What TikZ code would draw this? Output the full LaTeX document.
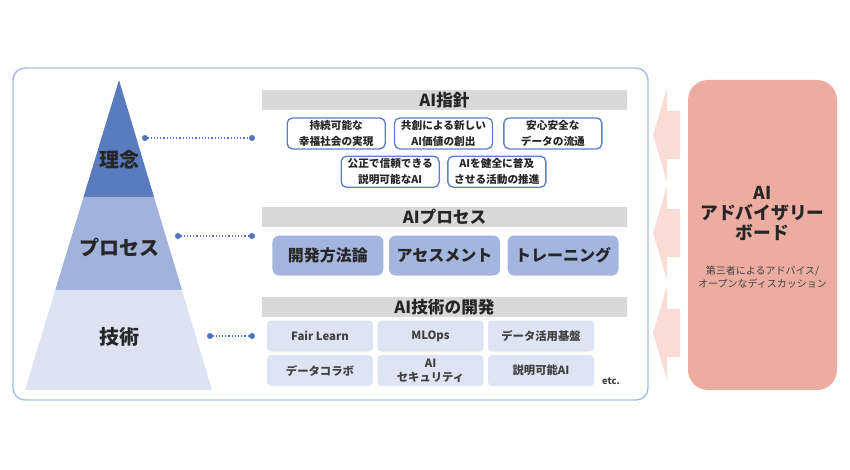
\documentclass[tikz,border=0pt]{standalone}
\usepackage{fontspec}
\setmainfont{Noto Sans CJK JP}
\usepackage{tikz}
\usetikzlibrary{positioning,arrows.meta,calc}
\definecolor{pyA}{RGB}{90,123,189}
\definecolor{pyB}{RGB}{161,179,219}
\definecolor{pyC}{RGB}{221,227,242}
\definecolor{frmblue}{RGB}{168,188,228}
\definecolor{dotblue}{RGB}{84,118,190}
\definecolor{hdgray}{RGB}{217,217,217}
\definecolor{gdblue}{RGB}{92,128,200}
\definecolor{prblue}{RGB}{164,182,222}
\definecolor{tclight}{RGB}{223,228,244}
\definecolor{advpink}{RGB}{236,173,160}
\definecolor{arwpink}{RGB}{250,220,214}
\definecolor{txtdark}{RGB}{38,38,38}
\definecolor{txtgray}{RGB}{64,64,64}
\tikzset{
  hd/.style={fill=hdgray,minimum width=273.75pt,minimum height=15pt,inner sep=0pt,
    font=\fontsize{12.5}{14}\selectfont\bfseries,text=txtdark},
  gd/.style={draw=gdblue,line width=1pt,rounded corners=4pt,fill=white,align=center,
    font=\fontsize{8}{12}\selectfont\bfseries,text=txtdark,minimum width=73.5pt,minimum height=23.25pt,inner sep=0pt},
  pr/.style={fill=prblue,rounded corners=5pt,minimum width=83.25pt,minimum height=30pt,inner sep=0pt,
    font=\fontsize{12}{14}\selectfont\bfseries,text=txtdark},
  tc/.style={fill=tclight,rounded corners=3pt,align=center,minimum width=79.5pt,minimum height=23.25pt,inner sep=0pt,
    font=\fontsize{8.5}{10.5}\selectfont\bfseries,text=txtgray},
  lv/.style={font=\fontsize{15}{18}\selectfont\bfseries,text=txtdark},
  lk/.style={{Circle[length=4.5pt]}-{Circle[length=4.5pt]},dash pattern=on 1pt off 1.4pt,line width=1pt,dotblue},
  frm/.style={draw=frmblue,line width=1.1pt,rounded corners=9pt},
  brd/.style={fill=advpink,rounded corners=15pt,minimum width=111.75pt,minimum height=232.5pt,inner sep=0pt},
  arw/.style={fill=arwpink},
}
\begin{document}
\begin{tikzpicture}[x=0.75pt,y=-0.75pt]
\useasboundingbox (0,0) rectangle (850,470);
\draw[frm] (13,68) rectangle (648,400);
\fill[pyA] (119,80)--(154,197)--(83.5,197)--cycle;
\fill[pyB] (83.5,197)--(154,197)--(182,290)--(55.3,290)--cycle;
\fill[pyC] (55.3,290)--(182,290)--(212,390)--(25,390)--cycle;
\node[lv] (n1) at (119,160){理念};
\node[lv] (n2) at (119,248){プロセス};
\node[lv] (n3) at (119,337){技術};
\node[hd] (h1) at (444.5,100){AI指針};
\node[gd,below=5.25pt of h1,xshift=-0.75pt] (g2){共創による新しい\\AI価値の創出};
\node[gd,left=6pt of g2] (g1){持続可能な\\幸福社会の実現};
\node[gd,right=7.5pt of g2] (g3){安心安全な\\データの流通};
\node[gd,below=4.5pt of g2.south,xshift=-40pt] (g4){公正で信頼できる\\説明可能なAI};
\node[gd,below=4.5pt of g2.south,xshift=40pt] (g5){AIを健全に普及\\させる活動の推進};
\node[hd] (h2) at (444.5,217){AIプロセス};
\node[pr,below=6pt of h2] (p2){アセスメント};
\node[pr,left=3.75pt of p2] (p1){開発方法論};
\node[pr,right=5.25pt of p2] (p3){トレーニング};
\node[hd] (h3) at (444.5,307){AI技術の開発};
\node[tc,below=2.25pt of h3,xshift=-10.5pt] (t2){MLOps};
\node[tc,left=3pt of t2] (t1){Fair Learn};
\node[tc,right=3pt of t2] (t3){データ活用基盤};
\node[tc,below=2.25pt of t2] (t5){AI\\セキュリティ};
\node[tc,left=3pt of t5] (t4){データコラボ};
\node[tc,right=3pt of t5] (t6){説明可能AI};
\node[font=\fontsize{7}{8}\selectfont\bfseries,text=txtgray] (etc) at (611,381){etc.};
\coordinate (d1) at (142,138); \coordinate (e1) at (255,138);
\coordinate (d2) at (175,236); \coordinate (e2) at (255,236);
\coordinate (d3) at (207,336); \coordinate (e3) at (255,336);
\draw[lk](d1)--(e1);\draw[lk](d2)--(e2);\draw[lk](d3)--(e3);
\foreach \y in {135,233,333}{\fill[arw] (653,\y)--(667,\y-47)--(667,\y-24)--(680,\y-24)--(680,\y+24)--(667,\y+24)--(667,\y+47)--cycle;}
\node[brd] (adv) at (762.5,235){};
\node[font=\fontsize{13.3}{15}\selectfont\bfseries,text=txtdark,align=center] (advt) at ([yshift=16.5pt]adv.center){AI\\アドバイザリー\\ボード};
\node[font=\fontsize{7.5}{9.75}\selectfont,text=txtgray,align=center] (advs) at ([yshift=-31.5pt]adv.center){第三者によるアドバイス/\\オープンなディスカッション};
\end{tikzpicture}
\end{document}
